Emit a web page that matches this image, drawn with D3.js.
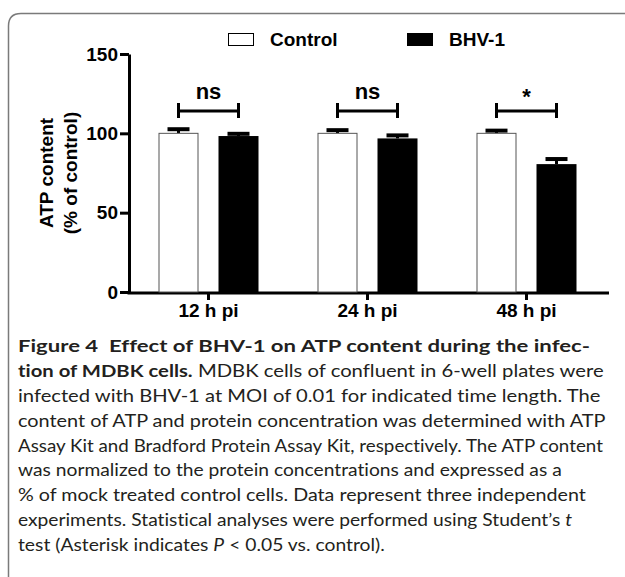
<!DOCTYPE html>
<html>
<head>
<meta charset="utf-8">
<script src="https://cdn.jsdelivr.net/npm/d3@7"></script>
<style>
  body { margin: 0; background: #fff; }
  svg { display: block; }
  .axis path, .axis line { stroke: #000; stroke-width: 3; }
  .axis text { font-family: "Liberation Sans", Arial, sans-serif; font-weight: bold; font-size: 19px; fill: #000; }
  .lbl { font-family: "Liberation Sans", Arial, sans-serif; font-weight: bold; fill: #000; }
  .cap { font-family: Lato, "Open Sans", sans-serif; font-size: 17.5px; fill: #231f20; white-space: pre; font-variant-ligatures: none; }
</style>
</head>
<body>
<script>
// chart values
var categories = ["12 h pi", "24 h pi", "48 h pi"];
var seriesNames = ["Control", "BHV-1"];
var controlValues = [100, 100, 100];
var controlErrors = [2.6, 2, 1.7];
var bhvValues = [98.3, 96.8, 80.6];
var bhvErrors = [1.4, 1.9, 3.2];
var significance = ["ns", "ns", "*"];
var yTicks = [0, 50, 100, 150];

var captionLines = [
  [{t: "Figure 4  Effect of BHV-1 on ATP content during the infec-", b: true}],
  [{t: "tion of MDBK cells.", b: true}, {t: " MDBK cells of confluent in 6-well plates were"}],
  [{t: "infected with BHV-1 at MOI of 0.01 for indicated time length. The"}],
  [{t: "content of ATP and protein concentration was determined with ATP"}],
  [{t: "Assay Kit and Bradford Protein Assay Kit, respectively. The ATP content"}],
  [{t: "was normalized to the protein concentrations and expressed as a"}],
  [{t: "% of mock treated control cells. Data represent three independent"}],
  [{t: "experiments. Statistical analyses were performed using Student\u2019s "}, {t: "t", i: true}],
  [{t: "test (Asterisk indicates "}, {t: "P", i: true}, {t: " < 0.05 vs. control)."}]
];
var captionWidths = [572, 586, 583, 588, 586, 544, 569, 554, 367];

var svg = d3.select("body").append("svg")
  .attr("width", 625)
  .attr("height", 577);

// frame with rounded top-left corner
svg.append("path")
  .attr("d", "M8.5,577 L8.5,26 Q8.5,13.5 21,13.5 L625,13.5")
  .attr("fill", "none")
  .attr("stroke", "#7a7a7a")
  .attr("stroke-width", 1.5);

var x = d3.scaleBand().domain(categories).range([129, 606]);
var xInner = d3.scaleBand().domain(seriesNames).range([-50, 50]).paddingInner(1 / 3);
var y = d3.scaleLinear().domain([0, 150]).range([292, 54]);

// y axis
svg.append("g")
  .attr("class", "axis")
  .attr("transform", "translate(129,0)")
  .call(d3.axisLeft(y).tickValues(yTicks).tickSize(9).tickSizeOuter(0).tickPadding(2));

// x axis line and ticks
svg.append("line")
  .attr("x1", 127.5).attr("x2", 609)
  .attr("y1", y(0) + 1).attr("y2", y(0) + 1)
  .attr("stroke", "#000").attr("stroke-width", 3);

var groups = svg.selectAll(".grp")
  .data(categories)
  .enter().append("g")
  .attr("class", "grp")
  .attr("transform", function(d) { return "translate(" + (x(d) + x.bandwidth() / 2) + ",0)"; });

groups.append("line")
  .attr("x1", 0).attr("x2", 0)
  .attr("y1", y(0) + 1).attr("y2", y(0) + 8)
  .attr("stroke", "#000").attr("stroke-width", 3);

groups.append("text")
  .attr("class", "lbl")
  .attr("y", 317)
  .attr("text-anchor", "middle")
  .style("font-size", "19px")
  .text(function(d) { return d; });

// error bars (drawn first so bar tops cover the stem base)
function errorBar(vals, errs, name) {
  groups.append("line")
    .attr("x1", xInner(name) + xInner.bandwidth() / 2)
    .attr("x2", xInner(name) + xInner.bandwidth() / 2)
    .attr("y1", function(d, i) { return y(vals[i]); })
    .attr("y2", function(d, i) { return y(vals[i] + errs[i]); })
    .attr("stroke", "#000").attr("stroke-width", 3);
  groups.append("line")
    .attr("x1", xInner(name) + xInner.bandwidth() / 2 - 11)
    .attr("x2", xInner(name) + xInner.bandwidth() / 2 + 11)
    .attr("y1", function(d, i) { return y(vals[i] + errs[i]); })
    .attr("y2", function(d, i) { return y(vals[i] + errs[i]); })
    .attr("stroke", "#000").attr("stroke-width", 4);
}
errorBar(controlValues, controlErrors, "Control");
errorBar(bhvValues, bhvErrors, "BHV-1");

// bars
groups.append("rect")
  .attr("x", xInner("Control") + 0.5)
  .attr("width", xInner.bandwidth() - 1)
  .attr("y", function(d, i) { return y(controlValues[i]); })
  .attr("height", function(d, i) { return y(0) - y(controlValues[i]); })
  .attr("fill", "#fff")
  .attr("stroke", "#555")
  .attr("stroke-width", 1);

groups.append("rect")
  .attr("x", xInner("BHV-1"))
  .attr("width", xInner.bandwidth())
  .attr("y", function(d, i) { return y(bhvValues[i]); })
  .attr("height", function(d, i) { return y(0) - y(bhvValues[i]); })
  .attr("fill", "#000");

// significance brackets
var bx1 = xInner("Control") + xInner.bandwidth() / 2;
var bx2 = xInner("BHV-1") + xInner.bandwidth() / 2;
var by = 111;
groups.append("line")
  .attr("x1", bx1).attr("x2", bx2).attr("y1", by).attr("y2", by)
  .attr("stroke", "#000").attr("stroke-width", 3);
[bx1, bx2].forEach(function(bx) {
  groups.append("line")
    .attr("x1", bx).attr("x2", bx).attr("y1", by - 8).attr("y2", by + 7)
    .attr("stroke", "#000").attr("stroke-width", 3);
});
groups.append("text")
  .attr("class", "lbl")
  .attr("x", (bx1 + bx2) / 2)
  .attr("y", function(d, i) { return significance[i] === "*" ? 104 : 99; })
  .attr("text-anchor", "middle")
  .style("font-size", "22px")
  .text(function(d, i) { return significance[i]; });

// y axis title
var yTitle = svg.append("text")
  .attr("class", "lbl")
  .attr("transform", "translate(53," + y(75) + ") rotate(-90)")
  .attr("text-anchor", "middle")
  .style("font-size", "19px");
yTitle.append("tspan").attr("x", 0).attr("y", 0).text("ATP content");
yTitle.append("tspan").attr("x", 0).attr("y", 24).text("(% of control)");

// legend
var legendX = [228, 407];
seriesNames.forEach(function(name, i) {
  svg.append("rect")
    .attr("x", legendX[i] + 0.5).attr("y", 33.5)
    .attr("width", 25).attr("height", 12)
    .attr("fill", i === 0 ? "#fff" : "#000")
    .attr("stroke", "#000").attr("stroke-width", 1);
  svg.append("text")
    .attr("class", "lbl")
    .attr("x", legendX[i] + 42).attr("y", 46)
    .style("font-size", "19px")
    .text(name);
});

// caption
captionLines.forEach(function(parts, i) {
  var t = svg.append("text")
    .attr("class", "cap")
    .attr("x", 18)
    .attr("y", 352 + i * 24.9);
  parts.forEach(function(p) {
    t.append("tspan")
      .style("font-weight", p.b ? "bold" : "normal")
      .style("font-style", p.i ? "italic" : "normal")
      .text(p.t);
  });
  var w = t.node().getBBox().width;
  var k = captionWidths[i] / w;
  t.attr("transform", "translate(" + (18 - 18 * k) + ",0) scale(" + k + ",1)");
});
</script>
</body>
</html>
